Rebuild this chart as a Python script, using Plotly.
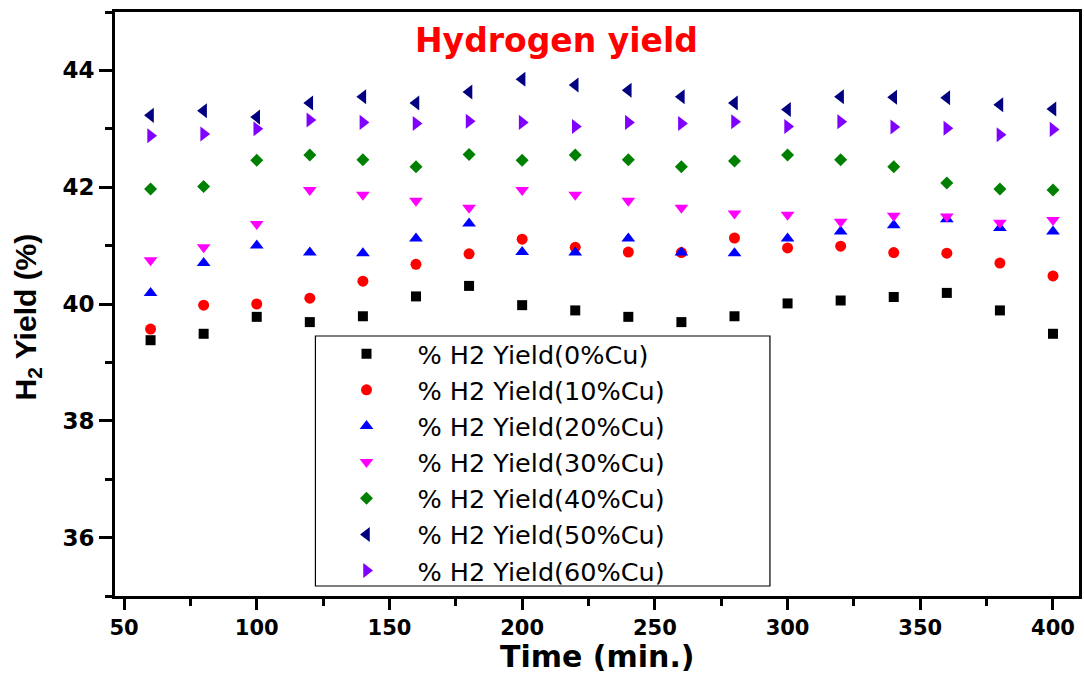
import plotly.graph_objects as go

time_min = [60, 80, 100, 120, 140, 160, 180, 200, 220, 240, 260, 280, 300, 320, 340, 360, 380, 400]

y_0cu = [39.38, 39.49, 39.78, 39.69, 39.79, 40.13, 40.31, 39.98, 39.89, 39.78, 39.69, 39.79, 40.01, 40.06, 40.12, 40.19, 39.89, 39.49]
y_10cu = [39.57, 39.98, 40.00, 40.10, 40.39, 40.68, 40.86, 41.11, 40.97, 40.89, 40.88, 41.13, 40.96, 40.99, 40.88, 40.87, 40.70, 40.48]
y_20cu = [40.19, 40.70, 41.00, 40.88, 40.87, 41.12, 41.38, 40.89, 40.88, 41.12, 40.88, 40.87, 41.12, 41.24, 41.35, 41.45, 41.30, 41.24]
y_30cu = [40.75, 40.97, 41.37, 41.95, 41.87, 41.77, 41.65, 41.95, 41.87, 41.77, 41.65, 41.55, 41.53, 41.41, 41.51, 41.50, 41.39, 41.44]
y_40cu = [41.97, 42.01, 42.46, 42.55, 42.47, 42.35, 42.56, 42.46, 42.55, 42.47, 42.35, 42.45, 42.55, 42.47, 42.35, 42.07, 41.97, 41.95]
y_50cu = [43.23, 43.31, 43.20, 43.44, 43.55, 43.44, 43.63, 43.85, 43.75, 43.66, 43.55, 43.44, 43.33, 43.55, 43.54, 43.53, 43.41, 43.34]
y_60cu = [42.88, 42.91, 43.00, 43.15, 43.11, 43.09, 43.13, 43.11, 43.04, 43.11, 43.09, 43.12, 43.04, 43.12, 43.03, 43.01, 42.90, 42.99]

series_names = ["% H2 Yield(0%Cu)", "% H2 Yield(10%Cu)", "% H2 Yield(20%Cu)", "% H2 Yield(30%Cu)",
                "% H2 Yield(40%Cu)", "% H2 Yield(50%Cu)", "% H2 Yield(60%Cu)"]
series_values = [y_0cu, y_10cu, y_20cu, y_30cu, y_40cu, y_50cu, y_60cu]
series_colors = ["#000000", "#FF0000", "#0000FF", "#FF00FF", "#008000", "#000080", "#8000FF"]
series_symbols = ["square", "circle", "triangle-up", "triangle-down", "diamond", "triangle-left", "triangle-right"]
series_sizes = [10, 11, 12, 12, 10, 13, 13]

x_ticks = [50, 100, 150, 200, 250, 300, 350, 400]
y_ticks = [36, 38, 40, 42, 44]

fig = go.Figure()
for name, vals, col, sym, sz in zip(series_names, series_values, series_colors, series_symbols, series_sizes):
    fig.add_trace(go.Scatter(
        x=time_min, y=vals, mode="markers", name=name,
        marker=dict(symbol=sym, color=col, size=sz, line=dict(width=0)),
    ))

tickfont = dict(family="DejaVu Sans", size=23, color="black", weight="bold")

fig.update_layout(
    width=1084, height=673,
    margin=dict(l=115, r=2, t=12, b=77),
    paper_bgcolor="white", plot_bgcolor="white",
    showlegend=True,
    legend=dict(
        x=0.208, xanchor="left", y=0.4545, yanchor="top",
        bgcolor="rgba(0,0,0,0)", borderwidth=0,
        font=dict(family="DejaVu Sans", size=25.5, color="black"),
        itemwidth=92, tracegroupgap=0,
    ),
    xaxis=dict(
        range=[46.6, 409.8], tickvals=x_ticks, ticktext=[str(v) for v in x_ticks],
        showgrid=False, zeroline=False,
        showline=True, linewidth=3, linecolor="black", mirror=True,
        ticks="outside", ticklen=11, tickwidth=2.5, tickcolor="black",
        minor=dict(dtick=25, tick0=0, ticks="outside", ticklen=7, tickwidth=2.5, tickcolor="black"),
        tickfont=dict(family="DejaVu Sans", size=21, color="black", weight="bold"),
    ),
    yaxis=dict(
        range=[35, 45], tickvals=y_ticks, ticktext=[str(v) for v in y_ticks],
        showgrid=False, zeroline=False,
        showline=True, linewidth=3, linecolor="black", mirror=True,
        ticks="outside", ticklen=13, tickwidth=2.5, tickcolor="black",
        minor=dict(dtick=1, tick0=0, ticks="outside", ticklen=7, tickwidth=2.5, tickcolor="black"),
        tickfont=tickfont,
    ),
    shapes=[dict(type="rect", xref="paper", yref="paper",
                 x0=0.2079, x1=0.6794, y0=0.0171, y1=0.4452,
                 line=dict(color="black", width=1.2), fillcolor="rgba(0,0,0,0)", layer="above")],
    annotations=[
        dict(text="Hydrogen yield", xref="paper", yref="paper", x=0.4575, y=0.951,
             xanchor="center", yanchor="middle", showarrow=False,
             font=dict(family="DejaVu Sans", size=33, color="#FF0000", weight="bold")),
        dict(text="H<sub>2</sub> Yield (%)", xref="paper", yref="paper", x=0, xshift=-88, y=0.477,
             xanchor="center", yanchor="middle", textangle=-90, showarrow=False,
             font=dict(family="Liberation Sans", size=30, color="black", weight="bold")),
        dict(text="Time (min.)", xref="paper", yref="paper", x=0.5, y=0, yshift=-79,
             xanchor="center", yanchor="bottom", showarrow=False, borderpad=0,
             font=dict(family="DejaVu Sans", size=30, color="black", weight="bold")),
    ],
)

fig.write_html("out.html", config={"displayModeBar": False},
               post_script="document.body.style.margin='0';document.body.style.overflow='hidden';")
